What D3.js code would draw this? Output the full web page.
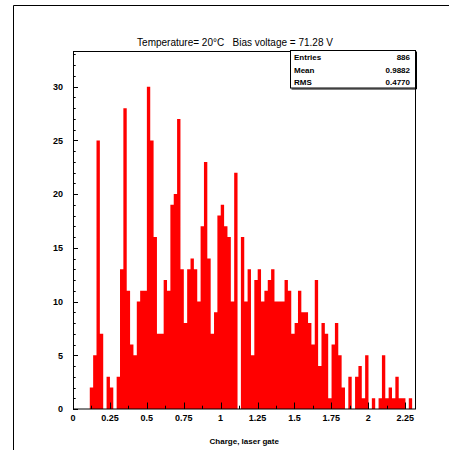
<!DOCTYPE html>
<html><head><meta charset="utf-8">
<script src="https://cdn.jsdelivr.net/npm/d3@7"></script>
<style>html,body{margin:0;padding:0;background:#fff;}svg{display:block;}</style>
</head><body>
<script>
// ---- data ----
const xMin = 0, xMax = 2.32, nBins = 102;
const counts = [
  0,0,0,0,0,
  2,5,25,7,0,3,2,0,3,13,28,11,6,5,10,11,11,
  30,25,16,7,7,12,11,19,20,27,13,8,13,14,13,
  10,17,23,14,7,9,18,19,17,16,10,22,
  0,16,10,13,5,12,13,10,11,12,13,10,10,10,
  12,11,7,8,11,9,9,8,
  6,12,4,8,7,1,6,8,5,2,0,3,0,3,4,1,5,
  0,1,0,1,5,1,2,1,3,1,1,0,1,0
];
const xTicks = [0,0.25,0.5,0.75,1,1.25,1.5,1.75,2,2.25];
const xTickLabels = ["0","0.25","0.5","0.75","1","1.25","1.5","1.75","2","2.25"];
const yTicks = [0,5,10,15,20,25,30];
const yMax = 33.32;
const titleText = "Temperature= 20\u00B0C   Bias voltage = 71.28 V";
const xTitle = "Charge, laser gate";
const statNames = ["Entries","Mean","RMS"];
const statValues = ["886","0.9882","0.4770"];

// ---- layout ----
const W = 449, H = 450;
const L = 73, R = 415.5, T = 51, B = 409;
const svg = d3.select("body").append("svg").attr("width",W).attr("height",H);
svg.append("rect").attr("width",W).attr("height",H).attr("fill","#fff");

// canvas border
svg.append("path").attr("d",`M13.5,${H}V5.5H${W}`).attr("fill","none").attr("stroke","#000").attr("stroke-width",1);

const x = d3.scaleLinear().domain([xMin,xMax]).range([L,R]);
const y = d3.scaleLinear().domain([0,yMax]).range([B,T]);
const bw = (xMax - xMin)/nBins;

const pts = counts.map((c,i)=>({x:xMin+i*bw, v:c}));
pts.push({x:xMax, v:counts[counts.length-1]});
const area = d3.area().curve(d3.curveStepAfter).x(d=>x(d.x)).y0(y(0)).y1(d=>y(d.v));
svg.append("path").datum(pts).attr("d",area).attr("fill","#ff0000").attr("stroke","none");

// frame
svg.append("rect").attr("x",L+0.5).attr("y",T+0.5).attr("width",R-L-0.5).attr("height",B-T-0.5)
  .attr("fill","none").attr("stroke","#000").attr("stroke-width",1);

// y ticks
const g = svg.append("g");
for(let v=0; v<=33; v++){
  const major = v%5===0;
  const yy = Math.round(y(v))+0.5;
  g.append("line").attr("x1",L).attr("x2",L+(major?5:2.7)).attr("y1",yy).attr("y2",yy)
   .attr("stroke","#000").attr("stroke-width",1);
}
g.selectAll("text.yl").data(yTicks).enter().append("text")
  .attr("x",L-10).attr("y",d=>y(d)+3.3).attr("text-anchor","end")
  .attr("font-family","'Liberation Sans',Arial,sans-serif").attr("font-weight","bold").attr("font-size",9)
  .text(d=>d);

// x ticks
for(let i=0;i*0.125<=xMax+1e-9;i++){
  const v=i*0.125; const major = i%2===0;
  const xx = Math.round(x(v))+0.5;
  g.append("line").attr("x1",xx).attr("x2",xx).attr("y1",B).attr("y2",B-(major?6.5:3.3))
   .attr("stroke","#000").attr("stroke-width",1);
}
g.selectAll("text.xl").data(xTicks).enter().append("text")
  .attr("x",d=>x(d)).attr("y",421).attr("text-anchor","middle")
  .attr("font-family","'Liberation Sans',Arial,sans-serif").attr("font-weight","bold").attr("font-size",9)
  .text((d,i)=>xTickLabels[i]);

// axis title
svg.append("text").attr("x",(L+R)/2).attr("y",444).attr("text-anchor","middle")
  .attr("font-family","'Liberation Sans',Arial,sans-serif").attr("font-weight","bold").attr("font-size",8)
  .text(xTitle);

// title
svg.append("text").attr("x",235).attr("y",46).attr("text-anchor","middle")
  .attr("font-family","'Liberation Sans',Arial,sans-serif").attr("font-size",10)
  .attr("xml:space","preserve").style("white-space","pre")
  .text(titleText);

// stats box
const sx0 = 290.5, sx1 = 415.5, sy0 = 50.5, sy1 = 88;
svg.append("rect").attr("x",sx0).attr("y",sy0).attr("width",sx1-sx0).attr("height",sy1-sy0)
  .attr("fill","#fff").attr("stroke","#000").attr("stroke-width",1);
svg.append("path").attr("d",`M${sx0+1},${sy1+1}H${sx1+1}V${sy0+1}`).attr("fill","none").attr("stroke","#000").attr("stroke-width",1);
statNames.forEach((n,i)=>{
  const yy = 60 + i*12.7;
  svg.append("text").attr("x",294).attr("y",yy)
   .attr("font-family","'Liberation Sans',Arial,sans-serif").attr("font-weight","bold").attr("font-size",8).text(n);
  svg.append("text").attr("x",410).attr("y",yy).attr("text-anchor","end")
   .attr("font-family","'Liberation Sans',Arial,sans-serif").attr("font-weight","bold").attr("font-size",8).text(statValues[i]);
});
</script>
</body></html>
